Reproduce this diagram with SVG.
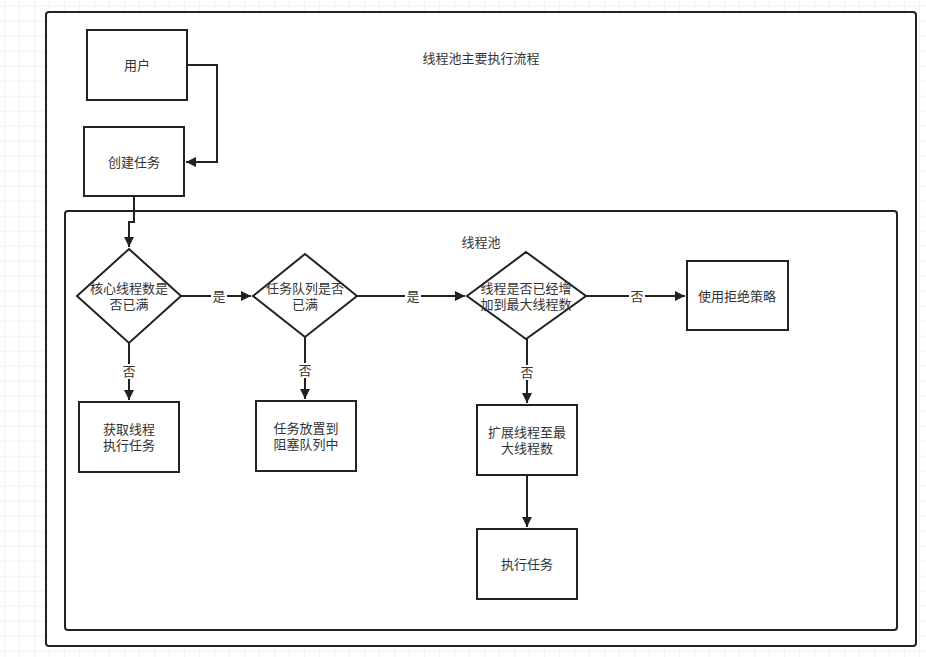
<svg xmlns="http://www.w3.org/2000/svg" width="926" height="657" viewBox="0 0 926 657">
<defs>
<pattern id="grid" x="4" y="5.7" width="15" height="15" patternUnits="userSpaceOnUse">
<path d="M0 0H15M0 0V15" fill="none" stroke="#e6e6e6" stroke-width="1"/>
</pattern>
<marker id="arr" viewBox="0 0 10 10" refX="10" refY="5" markerWidth="10" markerHeight="10" markerUnits="userSpaceOnUse" orient="auto">
<path d="M0 0L10 5L0 10Z" fill="#222"/>
</marker>
</defs>
<style>
.box{fill:#fff;stroke:#222;stroke-width:2}
.cont{fill:#fff;stroke:#222;stroke-width:2}
.line{fill:none;stroke:#222;stroke-width:2}
text{font-family:"Liberation Sans","Noto Sans CJK SC",sans-serif;font-size:13px;fill:#333;text-anchor:middle;dominant-baseline:central}
.lbl{fill:#fff}
</style>
<rect width="926" height="657" fill="#fff"/>
<rect width="926" height="657" fill="url(#grid)"/>
<g id="outer"><rect class="cont" x="46" y="12" width="870" height="634" rx="3"/><text x="481" y="58">线程池主要执行流程</text></g>
<g id="pool"><rect class="cont" x="65" y="211" width="832" height="419" rx="3"/><text x="481" y="242">线程池</text></g>
<g id="user"><rect class="box" x="87" y="30" width="100" height="70"/><text x="137" y="65">用户</text></g>
<g id="create"><rect class="box" x="84" y="127" width="100" height="69"/><text x="134" y="162">创建任务</text></g>
<g id="d1"><path class="box" d="M129 249L181 296L129 343L77 296Z"/><text x="129" y="288">核心线程数是</text><text x="129" y="304">否已满</text></g>
<g id="d2"><path class="box" d="M305 254L357 296L305 337L253 296Z"/><text x="305" y="288">任务队列是否</text><text x="305" y="304">已满</text></g>
<g id="d3"><path class="box" d="M526 252L586 296L526 339L467 296Z"/><text x="526" y="288">线程是否已经增</text><text x="526" y="304">加到最大线程数</text></g>
<g id="reject"><rect class="box" x="687" y="261" width="101" height="69"/><text x="737" y="296">使用拒绝策略</text></g>
<g id="get"><rect class="box" x="79" y="402" width="100" height="70"/><text x="129" y="429">获取线程</text><text x="129" y="445">执行任务</text></g>
<g id="queue"><rect class="box" x="256" y="401" width="100" height="70"/><text x="306" y="428">任务放置到</text><text x="306" y="444">阻塞队列中</text></g>
<g id="expand"><rect class="box" x="477" y="405" width="100" height="70"/><text x="527" y="432">扩展线程至最</text><text x="527" y="448">大线程数</text></g>
<g id="exec"><rect class="box" x="477" y="529" width="100" height="70"/><text x="527" y="564">执行任务</text></g>
<g id="connectors">
<path class="line" d="M187 65H217V162H186" marker-end="url(#arr)"/>
<path class="line" d="M134 196V222H129V247" marker-end="url(#arr)"/>
<path class="line" d="M181 296H251" marker-end="url(#arr)"/>
<rect class="lbl" x="211" y="289" width="16" height="15"/><text x="219" y="296">是</text>
<path class="line" d="M357 296H465" marker-end="url(#arr)"/>
<rect class="lbl" x="405" y="289" width="16" height="15"/><text x="413" y="296">是</text>
<path class="line" d="M586 296H685" marker-end="url(#arr)"/>
<rect class="lbl" x="629" y="289" width="16" height="15"/><text x="637" y="296">否</text>
<path class="line" d="M129 343V400" marker-end="url(#arr)"/>
<rect class="lbl" x="121" y="364" width="16" height="15"/><text x="129" y="371">否</text>
<path class="line" d="M305 337V399" marker-end="url(#arr)"/>
<rect class="lbl" x="297" y="363" width="16" height="15"/><text x="305" y="370">否</text>
<path class="line" d="M527 339V403" marker-end="url(#arr)"/>
<rect class="lbl" x="519" y="365" width="16" height="15"/><text x="527" y="372">否</text>
<path class="line" d="M527 475V527" marker-end="url(#arr)"/>
</g>
</svg>
